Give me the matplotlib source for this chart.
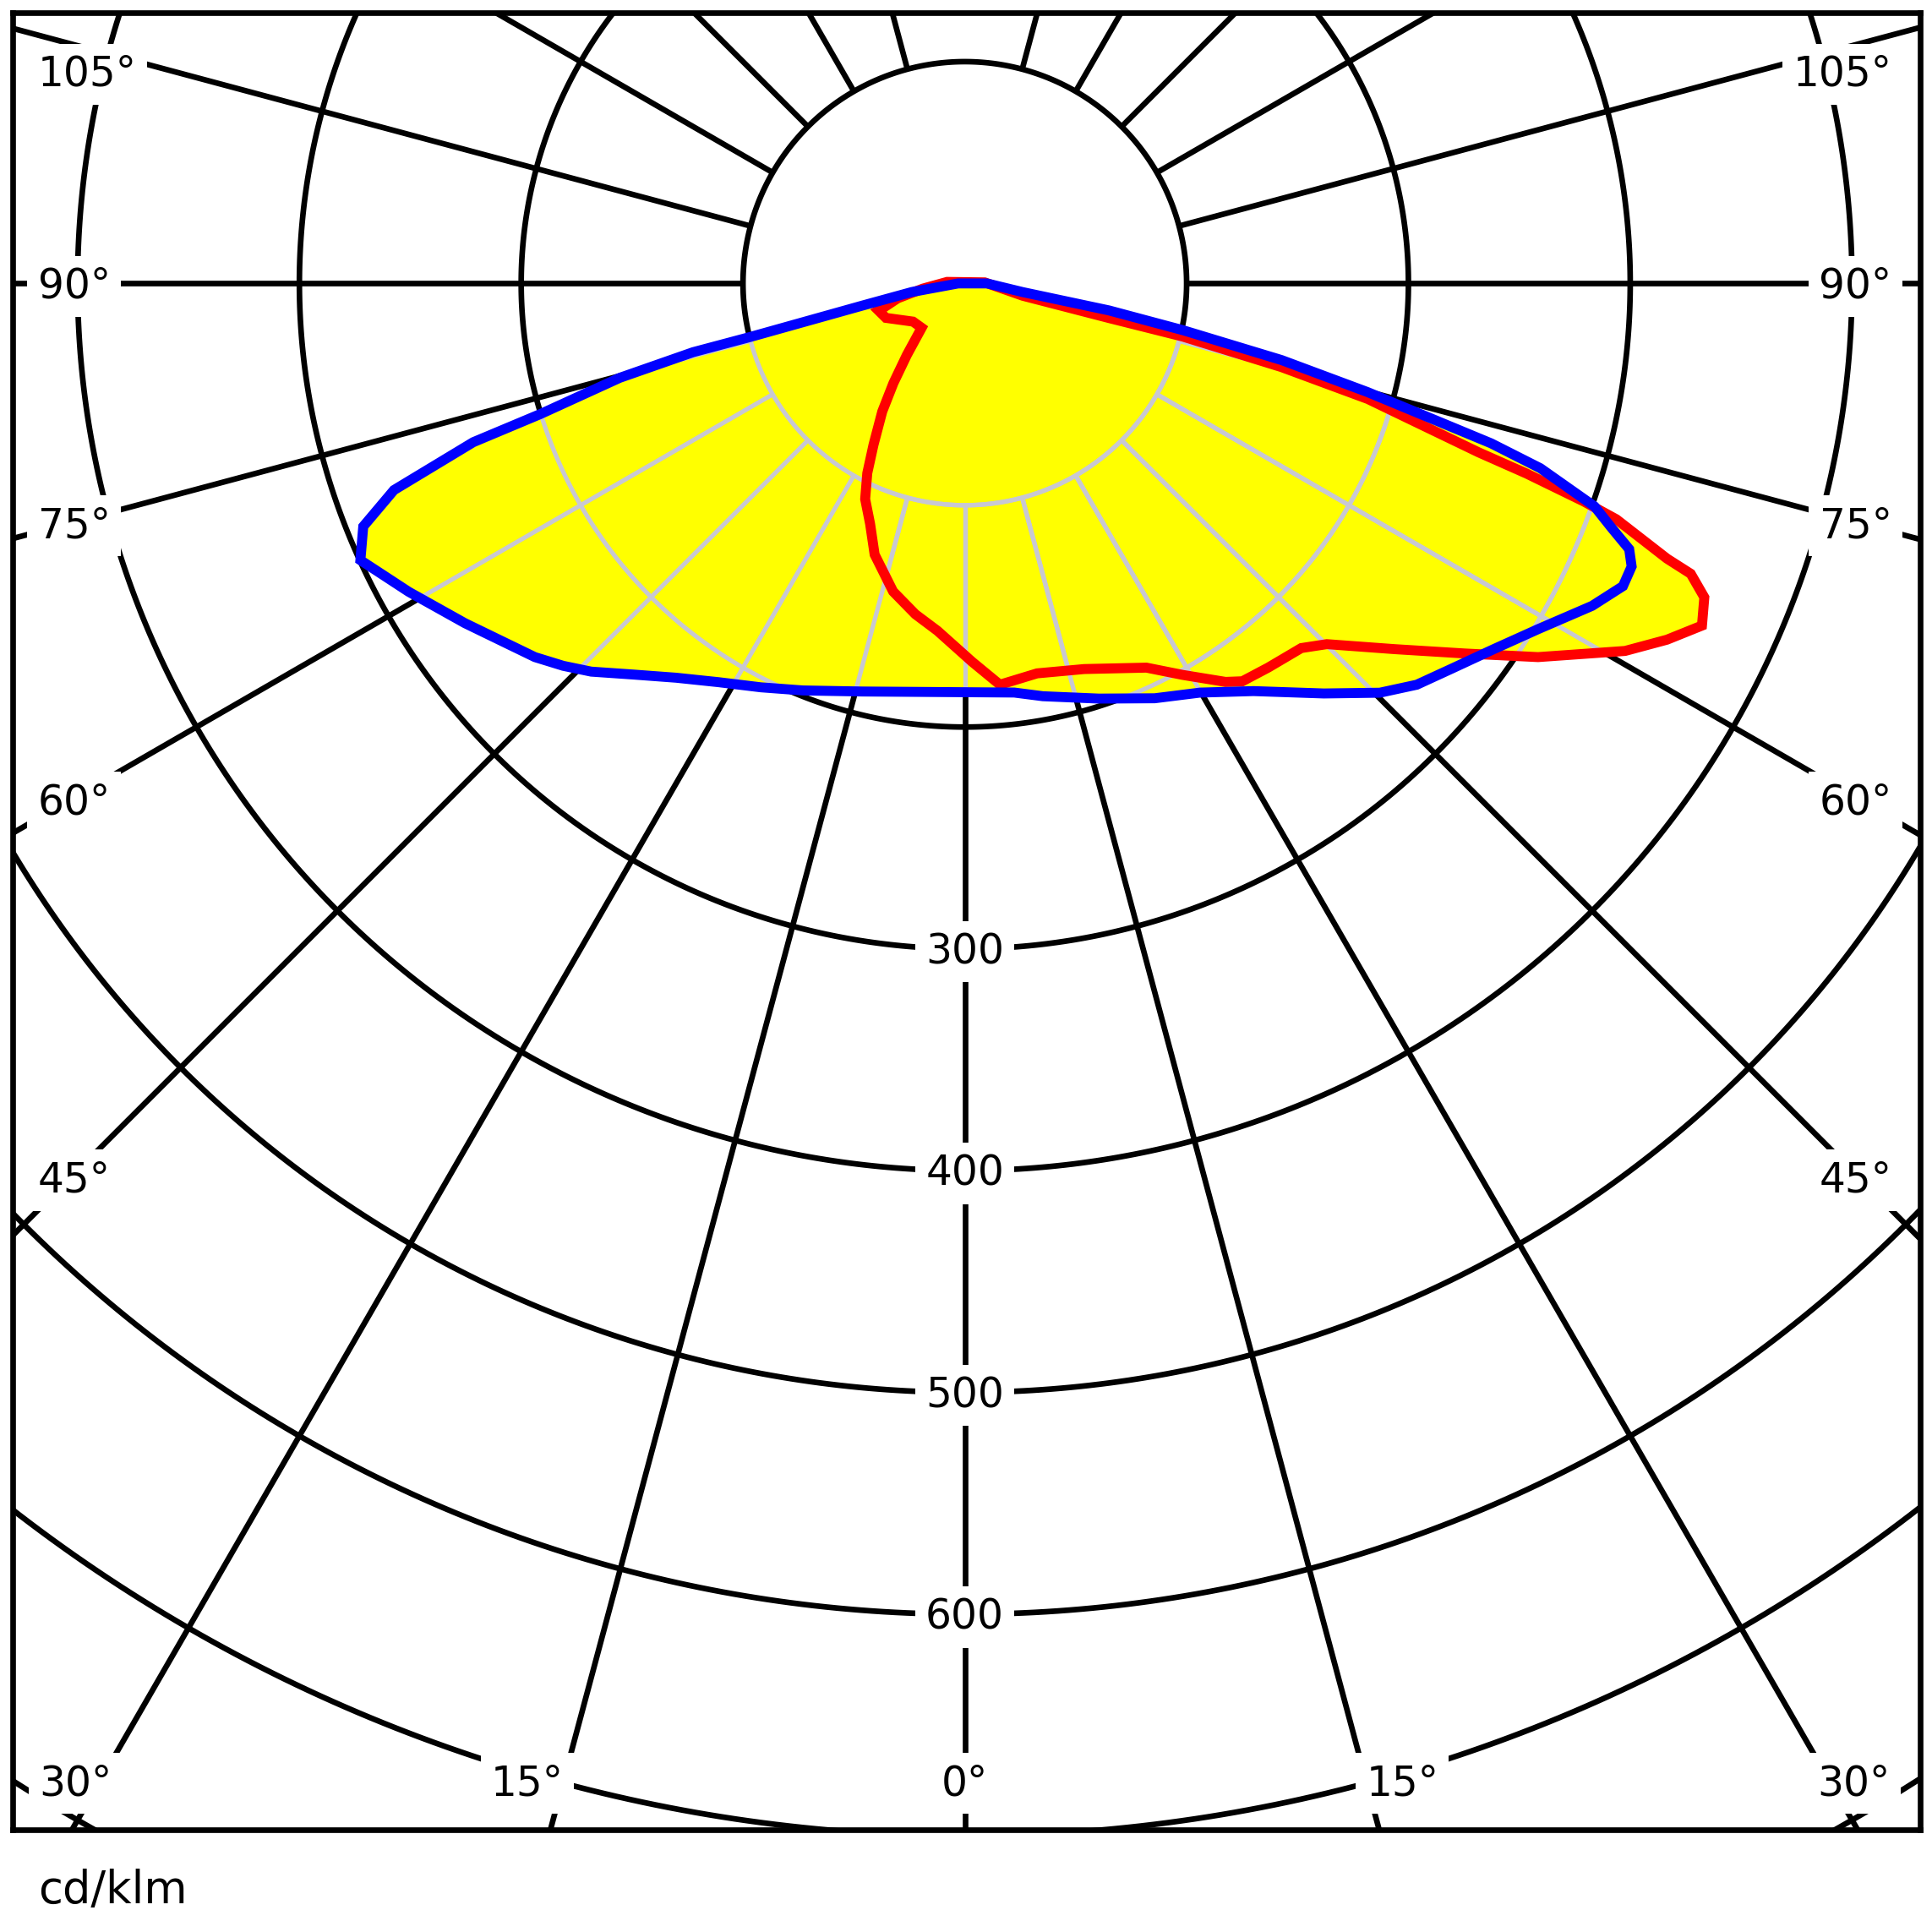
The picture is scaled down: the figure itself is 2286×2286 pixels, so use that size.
import numpy as np
import matplotlib
matplotlib.use("Agg")
import matplotlib.pyplot as plt
from matplotlib.patches import Polygon
from matplotlib.collections import LineCollection

# grid: intensity rings (cd/klm) and spokes (deg from nadir)
rings = [100, 200, 300, 400, 500, 600, 700, 800, 900]
ring_labels = [300, 400, 500, 600]
spokes = [a for a in range(0, 360, 15) if a != 180]
side_labels = [105, 90, 75, 60, 45]
bottom_labels = [30, 15, 0]

# red plane: gamma (deg, negative = left side) and intensity (cd/klm)
red_gamma = [-95, -83, -77.5, -73.5, -72.6, -66.4, -53.6, -44.2, -39, -35.6, -32.8,
             -29.5, -27.2, -24.8, -21.5, -18.4, -13.1, -8.5, -4.5, 1.1, 5.0,
             10.5, 17.2, 25.3, 29.1, 33.2, 34.9, 38.3, 42.7, 45.1, 49.6,
             53.5, 56.9, 60.9, 63.1, 65.1, 67.0, 68.2, 68.6, 70.1, 70.6,
             71.3, 71.8, 74.0, 75.2, 76.3, 76.5, 78.0, 93]
red_cd = [8, 19, 31, 38, 40.8, 38.8, 29.0, 27.9, 41.5, 55.3, 68.7,
          83.6, 96.2, 107.1, 116.5, 128.8, 142.6, 150.8, 157.1, 170.6, 181.6,
          178.8, 182.0, 191.6, 202.0, 214.7, 218.7, 220.7, 223.7, 230.4, 254.4,
          280.5, 308.5, 340.7, 355.0, 366.4, 362.2, 352.5, 340.0, 312.4, 295.7,
          267.4, 243.9, 189.0, 147.7, 101.2, 66.8, 26.7, 9]

# blue plane
blue_gamma = [-90, -80.8, -77.8, -76.0, -75.8, -74.7, -72.9, -72.1, -70.1, -68.0,
              -65.4, -61.0, -55.8, -51.8, -49.0, -46.4, -43.9, -40.3, -36.2, -31.7,
              -26.8, -21.7, -14.1, 0, 6.9, 10.7, 17.9, 24.6, 29.9, 35.3,
              41.2, 45.4, 48.4, 51.6, 55.3, 58.9, 62.8, 65.3, 67.0, 68.2,
              69.3, 70.5, 72.2, 73.1, 74.9, 76.4, 77.9, 79.4, 81.5, 90]
blue_cd = [3, 24.2, 47.2, 99.0, 126.4, 161.3, 200.0, 232.9, 273.7, 292.5,
           299.7, 286.7, 272.5, 262.6, 256.8, 250.0, 242.9, 231.2, 220.3, 211.3,
           204.0, 197.5, 189.7, 184.3, 185.8, 189.4, 196.7, 205.7, 212.8, 225.2,
           245.7, 262.8, 272.5, 279.8, 289.8, 301.8, 318.0, 326.6, 326.6, 322.6,
           311.7, 301.2, 272.5, 248.0, 188.1, 146.9, 100.6, 66.1, 26.4, 10]


def to_xy(gamma, cd):
    g = np.radians(np.asarray(gamma, dtype=float))
    r = np.asarray(cd, dtype=float)
    return np.column_stack([r * np.sin(g), -r * np.cos(g)])


fig = plt.figure(figsize=(22.86, 22.86), dpi=100)
ax = fig.add_axes([0.0064, 0.0529, 0.98734, 0.94068])
ax.set_xlim(-429.4, 430.6)
ax.set_ylim(-697.2, 122.2)
ax.set_xticks([])
ax.set_yticks([])
for sp in ax.spines.values():
    sp.set_linewidth(4.8)
    sp.set_zorder(20)

# grid segments
t = np.linspace(0, 2 * np.pi, 721)
grid = [np.column_stack([r * np.cos(t), r * np.sin(t)]) for r in rings]
for a in spokes:
    grid.append(to_xy([a, a], [100, 1200]))

ax.add_collection(LineCollection(grid, colors='black', linewidths=4.8, zorder=1))

red_xy = to_xy(red_gamma, red_cd)
blue_xy = to_xy(blue_gamma, blue_cd)

# yellow area = union of both planes, light grid drawn over it
for xy in (red_xy, blue_xy):
    patch = Polygon(xy, closed=True, fc='#ffff00', ec='none', zorder=2)
    ax.add_patch(patch)
    lc = LineCollection(grid, colors='#c8c8d2', linewidths=3.8, zorder=3)
    ax.add_collection(lc)
    lc.set_clip_path(patch)

ax.add_patch(Polygon(red_xy, closed=True, fill=False, ec='#ff0000', lw=8.5,
                     joinstyle='miter', zorder=5))
ax.add_patch(Polygon(blue_xy, closed=True, fill=False, ec='#0000ff', lw=8.5,
                     joinstyle='miter', zorder=6))

fs = 35
box = dict(boxstyle='square,pad=0.25', fc='white', ec='none')


def label(txt, x, y, ha):
    ax.annotate(txt, xy=(x, y), xytext=(0, -0.36 * fs), textcoords='offset points',
                ha=ha, va='baseline', fontsize=fs, bbox=box, zorder=10)


for r in ring_labels:
    label(str(r), 0, -r, 'center')

for a in side_labels:
    y = min(-403 / np.tan(np.radians(a)), 95.6)
    label(f"{a}°", -418, y, 'left')
    label(f"{a}°", 418, y, 'right')

for a in bottom_labels:
    x = min(675 * np.tan(np.radians(a)), 384.5)
    if a == 0:
        label("0°", 0, -675, 'center')
    else:
        label(f"{a}°", -x, -675, 'right')
        label(f"{a}°", x, -675, 'left')

fig.text(0.0197, 0.0149, "cd/klm", fontsize=38, ha='left', va='baseline')

fig.savefig("out.png", dpi=100)
